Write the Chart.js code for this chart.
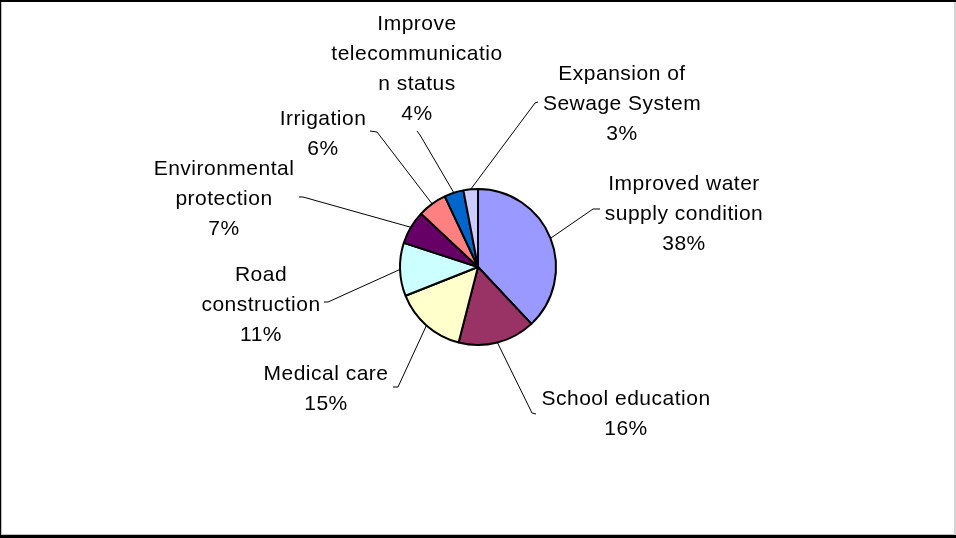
<!DOCTYPE html>
<html>
<head>
<meta charset="utf-8">
<script src="https://cdn.jsdelivr.net/npm/chart.js@4.4.1/dist/chart.umd.min.js"></script>
<style>
  html, body { margin: 0; padding: 0; background: #fff; }
  #wrap { position: relative; width: 956px; height: 538px; }
</style>
</head>
<body>
<div id="wrap"><canvas id="pie_chart" width="956" height="538"></canvas></div>
<script>
// category labels, one entry per text line
const categories = [
  ['Improved water', 'supply condition'],
  ['School education'],
  ['Medical care'],
  ['Road', 'construction'],
  ['Environmental', 'protection'],
  ['Irrigation'],
  ['Improve', 'telecommunicatio', 'n status'],
  ['Expansion of', 'Sewage System']
];
// share of each item, in percent
const shares = [38, 16, 15, 11, 7, 6, 4, 3];
const sliceColors = ['#9999FF', '#993366', '#FFFFCC', '#CCFFFF', '#660066', '#FF8080', '#0066CC', '#CCCCFF'];

// where each label sits, measured from the pie centre:
// text = centre x / first baseline, bend = leader elbow, tip = leader end
const labelSpots = [
  { text: [206, -77],  bend: [115, -58],  tip: [122, -58] },
  { text: [148, 138],  bend: [54, 146],   tip: [58, 147] },
  { text: [-152, 113], bend: [-80, 120],  tip: [-85, 120] },
  { text: [-217, 14],  bend: [-150, 35],  tip: [-154, 35] },
  { text: [-254, -92], bend: [-175, -70], tip: [-179, -70] },
  { text: [-155, -142], bend: [-101, -135], tip: [-108, -136] },
  { text: [-61, -237], bend: [-58, -132], tip: [-61, -136] },
  { text: [144, -187], bend: [57, -164],  tip: [60, -165] }
];

const LINE_H = 30;

const outsideLabels = {
  id: 'outsideLabels',
  afterDatasetsDraw(chart) {
    const ctx = chart.ctx;
    const arcs = chart.getDatasetMeta(0).data;
    ctx.save();
    arcs.forEach((arc, i) => {
      const spot = labelSpots[i];
      const cx = arc.x, cy = arc.y;
      const mid = (arc.startAngle + arc.endAngle) / 2;
      const sx = cx + Math.cos(mid) * arc.outerRadius;
      const sy = cy + Math.sin(mid) * arc.outerRadius;

      // leader line
      ctx.strokeStyle = '#000';
      ctx.lineWidth = 1;
      ctx.beginPath();
      ctx.moveTo(sx, sy);
      ctx.lineTo(cx + spot.bend[0], cy + spot.bend[1]);
      ctx.lineTo(cx + spot.tip[0], cy + spot.tip[1]);
      ctx.stroke();

      // label text
      ctx.fillStyle = '#000';
      ctx.font = '21px "Liberation Sans", Arial, sans-serif';
      ctx.textAlign = 'center';
      ctx.textBaseline = 'alphabetic';
      ctx.letterSpacing = '0.5px';
      const lines = categories[i].concat([shares[i] + '%']);
      lines.forEach((t, k) => {
        ctx.fillText(t, cx + spot.text[0], cy + spot.text[1] + k * LINE_H);
      });
    });
    ctx.restore();
  }
};

const frame = {
  id: 'frame',
  afterDraw(chart) {
    const ctx = chart.ctx;
    const w = chart.width, h = chart.height;
    ctx.save();
    ctx.fillStyle = '#000';
    ctx.fillRect(0, 0, w, 2);
    ctx.fillRect(0, 0, 1, h);
    ctx.fillRect(0, h - 3, w, 3);
    ctx.fillStyle = '#bdbdbd';
    ctx.fillRect(1, 2, 1, h - 5);
    ctx.fillRect(1, h - 4, w - 2, 1);
    ctx.fillStyle = '#d4d4d4';
    ctx.fillRect(w - 2, 2, 2, h - 5);
    ctx.restore();
  }
};

const pieCtx = document.getElementById('pie_chart');
new Chart(pieCtx, {
  type: 'pie',
  data: {
    labels: categories.map(l => l.join(' ')),
    datasets: [{
      data: shares,
      backgroundColor: sliceColors,
      borderColor: '#000',
      borderWidth: 2,
      radius: 78
    }]
  },
  options: {
    responsive: false,
    animation: false,
    layout: { padding: { top: 0, bottom: 4, left: 0, right: 0 } },
    plugins: {
      legend: { display: false },
      tooltip: { enabled: false }
    }
  },
  plugins: [outsideLabels, frame]
});
</script>
</body>
</html>
